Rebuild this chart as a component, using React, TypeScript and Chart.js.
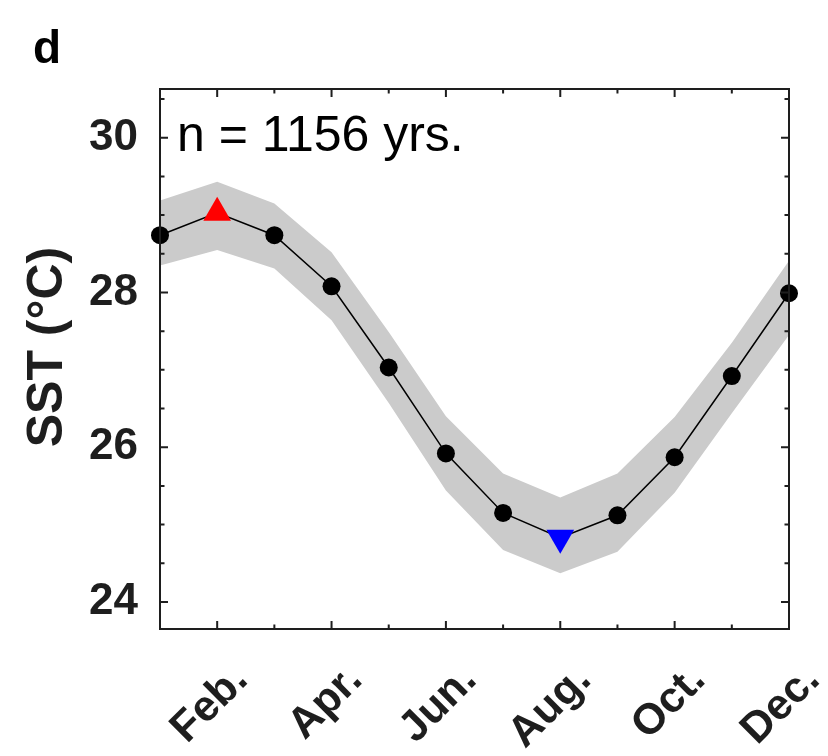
import React, { useEffect, useRef } from 'react';
import { Chart, registerables } from 'chart.js';
Chart.register(...registerables);

const months = [1, 2, 3, 4, 5, 6, 7, 8, 9, 10, 11, 12];
const monthNames = ['Jan.', 'Feb.', 'Mar.', 'Apr.', 'May', 'Jun.', 'Jul.', 'Aug.', 'Sep.', 'Oct.', 'Nov.', 'Dec.'];
const sstMean = [28.74, 29.03, 28.74, 28.08, 27.03, 25.92, 25.15, 24.83, 25.12, 25.87, 26.92, 27.99];
const sstUpper = [29.19, 29.43, 29.15, 28.52, 27.49, 26.40, 25.66, 25.35, 25.66, 26.39, 27.35, 28.41];
const sstLower = [28.35, 28.55, 28.31, 27.64, 26.57, 25.44, 24.67, 24.37, 24.65, 25.41, 26.44, 27.45];
const xTickMonths = [2, 4, 6, 8, 10, 12];
const xMinorMonths = [1, 3, 5, 7, 9, 11];
const yTicks = [24, 26, 28, 30];
const yMinorTicks = [24.5, 25, 25.5, 26.5, 27, 27.5, 28.5, 29, 29.5, 30.5];
const annotationText = 'n = 1156 yrs.';
const panelLabel = 'd';
const yTitle = 'SST (°C)';

const FONT = '"Liberation Sans", Arial, Helvetica, sans-serif';
const INK = '#1e1e1e';

export default function App() {
  const ref = useRef<HTMLCanvasElement | null>(null);

  useEffect(() => {
    const canvas = ref.current;
    if (!canvas) return;

    const maxIdx = sstMean.indexOf(Math.max(...sstMean));
    const minIdx = sstMean.indexOf(Math.min(...sstMean));

    const pointStyles = sstMean.map((_, i) => (i === maxIdx || i === minIdx ? 'triangle' : 'circle'));
    const pointRot = sstMean.map((_, i) => (i === minIdx ? 180 : 0));
    const pointColors = sstMean.map((_, i) => (i === maxIdx ? '#ff0000' : i === minIdx ? '#0000ff' : '#000000'));
    const pointRadii = sstMean.map((_, i) => (i === maxIdx || i === minIdx ? 16 : 9));

    const framePlugin = {
      id: 'frame',
      afterDatasetsDraw(chart: any) {
        const { ctx, chartArea: a, scales } = chart;
        const xs = scales.x;
        const ys = scales.y;
        ctx.save();
        ctx.strokeStyle = INK;
        ctx.lineWidth = 2;
        ctx.strokeRect(a.left, a.top, a.right - a.left, a.bottom - a.top);
        const major = 8;
        const minor = 4.5;
        ctx.beginPath();
        for (const m of xTickMonths) {
          const px = xs.getPixelForValue(m);
          ctx.moveTo(px, a.bottom); ctx.lineTo(px, a.bottom - major);
          ctx.moveTo(px, a.top); ctx.lineTo(px, a.top + major);
        }
        for (const m of xMinorMonths) {
          const px = xs.getPixelForValue(m);
          ctx.moveTo(px, a.bottom); ctx.lineTo(px, a.bottom - minor);
          ctx.moveTo(px, a.top); ctx.lineTo(px, a.top + minor);
        }
        for (const v of yTicks) {
          const py = ys.getPixelForValue(v);
          ctx.moveTo(a.left, py); ctx.lineTo(a.left + major, py);
          ctx.moveTo(a.right, py); ctx.lineTo(a.right - major, py);
        }
        for (const v of yMinorTicks) {
          const py = ys.getPixelForValue(v);
          ctx.moveTo(a.left, py); ctx.lineTo(a.left + minor, py);
          ctx.moveTo(a.right, py); ctx.lineTo(a.right - minor, py);
        }
        ctx.stroke();

        ctx.fillStyle = '#000';
        ctx.textBaseline = 'alphabetic';
        ctx.textAlign = 'left';
        ctx.font = `50px ${FONT}`;
        ctx.fillText(annotationText, a.left + 17, a.top + 62);

        ctx.font = `bold 46px ${FONT}`;
        ctx.fillText(panelLabel, 33, 63);

        // y-axis title
        ctx.save();
        ctx.translate(48, 347);
        ctx.rotate(-Math.PI / 2);
        ctx.textAlign = 'center';
        ctx.textBaseline = 'middle';
        ctx.fillStyle = INK;
        ctx.font = `bold 50px ${FONT}`;
        ctx.fillText(yTitle, 0, 0);
        ctx.restore();
        ctx.restore();
      },
    };

    const chart = new Chart(canvas, {
      type: 'line',
      data: {
        datasets: [
          {
            label: 'SST',
            data: months.map((m, i) => ({ x: m, y: sstMean[i] })),
            borderColor: '#000',
            borderWidth: 1.5,
            pointStyle: pointStyles as any,
            pointRotation: pointRot as any,
            pointRadius: pointRadii,
            pointBackgroundColor: pointColors,
            pointBorderColor: pointColors,
            pointBorderWidth: 0,
            fill: false,
            clip: false as any,
            tension: 0,
          },
          {
            label: 'upper',
            data: months.map((m, i) => ({ x: m, y: sstUpper[i] })),
            borderWidth: 0,
            borderColor: 'rgba(0,0,0,0)',
            pointRadius: 0,
            backgroundColor: '#cbcbcb',
            fill: '+1',
            tension: 0,
          },
          {
            label: 'lower',
            data: months.map((m, i) => ({ x: m, y: sstLower[i] })),
            borderWidth: 0,
            borderColor: 'rgba(0,0,0,0)',
            pointRadius: 0,
            fill: false,
            tension: 0,
          },
        ],
      },
      options: {
        animation: false,
        responsive: false,
        devicePixelRatio: 1,
        layout: { padding: { top: 89, right: 39, left: 0, bottom: 0 } },
        plugins: { legend: { display: false }, tooltip: { enabled: false } },
        scales: {
          x: {
            type: 'linear',
            min: 1,
            max: 12,
            grid: { display: false, drawTicks: false },
            border: { display: false },
            afterBuildTicks: (s: any) => {
              s.ticks = xTickMonths.map((v) => ({ value: v }));
            },
            afterFit: (s: any) => {
              s.height = 127;
              s.paddingLeft = 0;
              s.paddingRight = 0;
            },
            ticks: {
              autoSkip: false,
              minRotation: 45,
              maxRotation: 45,
              labelOffset: 24,
              padding: 26,
              color: INK,
              font: { family: FONT, size: 43, weight: 'bold' },
              callback: (v: any) => monthNames[months.indexOf(Number(v))] ?? '',
            },
          },
          y: {
            type: 'linear',
            min: 23.65,
            max: 30.63,
            grid: { display: false, drawTicks: false },
            border: { display: false },
            afterBuildTicks: (s: any) => {
              s.ticks = yTicks.map((v) => ({ value: v }));
            },
            afterFit: (s: any) => {
              s.width = 160;
            },
            ticks: {
              padding: 22,
              color: INK,
              font: { family: FONT, size: 44, weight: 'bold' },
              callback: (v: any) => String(v),
            },
          },
        },
      },
      plugins: [framePlugin],
    } as any);

    return () => chart.destroy();
  }, []);

  return (
    <div style={{ position: 'absolute', left: 0, top: 0, width: 828, height: 756, background: '#fff' }}>
      <canvas ref={ref} width={828} height={756} style={{ width: 828, height: 756, display: 'block' }} />
    </div>
  );
}
